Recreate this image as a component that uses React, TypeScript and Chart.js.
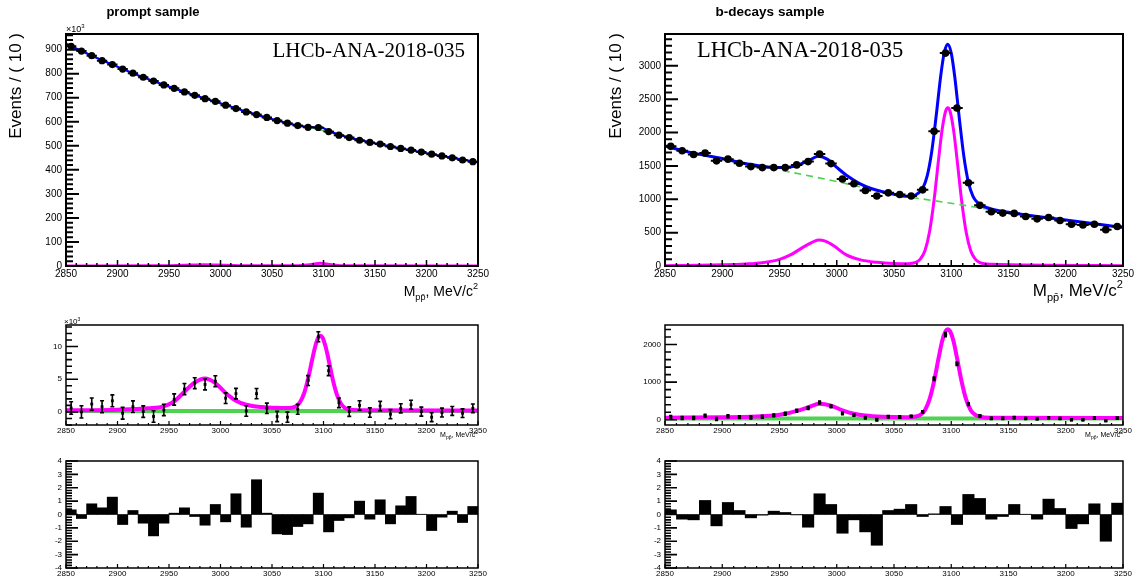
import React, { useEffect, useRef } from "react";
import { Chart, registerables } from "chart.js";

Chart.register(...registerables);
Chart.defaults.font.family = "'Liberation Sans', Arial, sans-serif";

// ---------------- data ----------------
const BIN_CENTERS = [2855, 2865, 2875, 2885, 2895, 2905, 2915, 2925, 2935, 2945, 2955, 2965, 2975, 2985, 2995, 3005, 3015, 3025, 3035, 3045, 3055, 3065, 3075, 3085, 3095, 3105, 3115, 3125, 3135, 3145, 3155, 3165, 3175, 3185, 3195, 3205, 3215, 3225, 3235, 3245];
const X_TICKS = [2850, 2900, 2950, 3000, 3050, 3100, 3150, 3200, 3250];

const PROMPT_Y_TICKS = [0, 100, 200, 300, 400, 500, 600, 700, 800, 900];
const BDEC_Y_TICKS = [0, 500, 1000, 1500, 2000, 2500, 3000];
const PROMPT_SUB_Y_TICKS = [0, 5, 10];
const BDEC_SUB_Y_TICKS = [0, 1000, 2000];
const PULL_Y_TICKS = [-4, -3, -2, -1, 0, 1, 2, 3, 4];

// prompt sample (x10^3 events)
const PROMPT_DATA = [914, 894, 875, 854, 838, 819, 802, 785, 769, 753, 739, 724, 710, 696, 685, 669, 655, 641, 630, 618, 605, 594, 584, 577, 576, 559, 544, 534, 523, 514, 507, 497, 489, 482, 474, 465, 458, 450, 441, 434];
const PROMPT_ERR = [0.95, 0.94, 0.93, 0.92, 0.91, 0.9, 0.89, 0.88, 0.87, 0.87, 0.86, 0.85, 0.84, 0.83, 0.83, 0.82, 0.81, 0.8, 0.79, 0.79, 0.78, 0.77, 0.76, 0.76, 0.77, 0.75, 0.74, 0.73, 0.72, 0.72, 0.71, 0.7, 0.7, 0.69, 0.69, 0.68, 0.68, 0.67, 0.66, 0.66];
const PROMPT_TOTAL_X = [2850, 2875, 2900, 2925, 2950, 2975, 3000, 3025, 3050, 3075, 3085, 3092, 3098, 3105, 3115, 3125, 3150, 3175, 3200, 3225, 3250];
const PROMPT_TOTAL_Y = [924, 875, 829, 785, 746, 710, 677, 642, 611, 584, 578, 577, 576, 562, 546, 534, 510, 489, 469, 450, 431];
const PROMPT_BKG_X = [2850, 2900, 2950, 3000, 3050, 3100, 3150, 3200, 3250];
const PROMPT_BKG_Y = [924, 829, 745, 675, 610, 563, 509, 469, 431];
const PROMPT_SIG_X = [2850, 2940, 2965, 2984, 3005, 3030, 3075, 3085, 3091, 3097, 3103, 3110, 3120, 3250];
const PROMPT_SIG_Y = [0.3, 1.0, 3.2, 5.0, 3.0, 1.0, 0.7, 4.5, 8.5, 11.5, 8.5, 4.5, 0.8, 0.3];

const PROMPT_SUB = [0.6, 0.0, 1.2, 0.8, 1.7, -0.2, 0.8, 0.05, -0.7, 0.3, 1.9, 3.5, 4.4, 4.2, 4.7, 2.1, 2.8, 0.15, 2.8, 0.55, -0.7, -0.8, 0.4, 4.8, 11.5, 6.3, 1.4, 0.05, 1.0, -0.1, 0.9, -0.35, 0.55, 1.1, 0.05, -0.8, -0.1, 0.15, -0.2, 0.55];
const PROMPT_SUBSIG_X = [2850, 2900, 2930, 2945, 2955, 2965, 2975, 2985, 2995, 3005, 3015, 3025, 3040, 3060, 3069, 3073, 3077, 3081, 3085, 3089, 3092, 3095, 3097, 3099, 3102, 3105, 3109, 3113, 3117, 3121, 3125, 3135, 3250];
const PROMPT_SUBSIG_Y = [0.25, 0.35, 0.55, 0.85, 1.6, 3.1, 4.5, 5.1, 4.4, 2.9, 1.7, 1.1, 0.75, 0.6, 0.64, 0.83, 1.44, 2.78, 5.06, 8.0, 10.06, 11.4, 11.66, 11.39, 10.0, 7.95, 4.95, 2.65, 1.26, 0.6, 0.35, 0.27, 0.22];
const PROMPT_SUBBKG_X = [2850, 3250];
const PROMPT_SUBBKG_Y = [0.15, 0.15];
const PROMPT_PULL = [0.35, -0.3, 0.8, 0.5, 1.3, -0.75, 0.3, -0.65, -1.6, -0.65, 0.1, 0.5, -0.15, -0.8, 0.75, -0.55, 1.55, -0.95, 2.6, 0.1, -1.45, -1.5, -0.9, -0.7, 1.6, -1.3, -0.45, -0.25, 1.0, -0.35, 1.1, -0.7, 0.65, 1.35, 0.02, -1.2, -0.2, 0.25, -0.6, 0.6];

// b-decays sample
const BDEC_DATA = [1793, 1727, 1672, 1692, 1576, 1601, 1540, 1490, 1475, 1475, 1475, 1515, 1565, 1677, 1535, 1303, 1232, 1131, 1050, 1096, 1071, 1050, 1141, 2020, 3192, 2368, 1247, 909, 813, 793, 788, 742, 707, 727, 682, 626, 616, 626, 545, 591];
const BDEC_ERR = [42, 42, 41, 41, 40, 40, 39, 39, 38, 38, 38, 39, 40, 41, 39, 36, 35, 34, 32, 33, 33, 32, 34, 45, 56, 49, 35, 30, 29, 28, 28, 27, 27, 27, 26, 25, 25, 25, 23, 24];
const BDEC_TOTAL_X = [2850, 2870, 2900, 2925, 2940, 2955, 2965, 2975, 2984, 2992, 3000, 3010, 3020, 3030, 3040, 3050, 3060, 3067, 3071, 3075, 3079, 3083, 3087, 3091, 3094, 3097, 3100, 3103, 3107, 3111, 3115, 3119, 3123, 3130, 3150, 3200, 3250];
const BDEC_TOTAL_Y = [1800, 1710, 1610, 1520, 1485, 1478, 1505, 1575, 1645, 1598, 1478, 1340, 1235, 1162, 1112, 1075, 1045, 1048, 1090, 1161, 1350, 1720, 2274, 2876, 3207, 3325, 3191, 2844, 2220, 1645, 1253, 1043, 950, 881, 805, 690, 578];
const BDEC_BKG_X = [2850, 2900, 2950, 3000, 3050, 3100, 3150, 3200, 3250];
const BDEC_BKG_Y = [1790, 1605, 1440, 1265, 1075, 940, 805, 690, 580];
const BDEC_SIG_X = [2850, 2880, 2900, 2920, 2935, 2950, 2960, 2970, 2978, 2984, 2990, 2998, 3008, 3020, 3035, 3050, 3062, 3069, 3073, 3077, 3081, 3085, 3089, 3092, 3095, 3097, 3099, 3102, 3105, 3109, 3113, 3117, 3121, 3125, 3135, 3250];
const BDEC_SIG_Y = [5, 10, 17, 30, 50, 100, 170, 275, 350, 390, 372, 295, 170, 95, 55, 38, 35, 54, 104, 230, 510, 990, 1610, 2040, 2315, 2370, 2315, 2040, 1610, 990, 510, 230, 104, 50, 25, 5];

const BDEC_SUB = [70, 45, 45, 105, 20, 95, 70, 60, 80, 115, 160, 240, 310, 460, 355, 170, 125, 55, 0, 80, 70, 90, 205, 1090, 2265, 1490, 415, 105, 35, 35, 55, 35, 25, 55, 35, 0, 0, 45, -25, 45];
const BDEC_SUBSIG_X = [2850, 2900, 2930, 2945, 2955, 2965, 2975, 2985, 2995, 3005, 3015, 3025, 3040, 3060, 3069, 3073, 3077, 3081, 3085, 3089, 3092, 3095, 3097, 3099, 3102, 3105, 3109, 3113, 3117, 3121, 3125, 3135, 3250];
const BDEC_SUBSIG_Y = [55, 65, 85, 115, 160, 235, 330, 425, 375, 250, 160, 110, 78, 65, 85, 130, 255, 540, 1025, 1650, 2090, 2355, 2410, 2355, 2090, 1650, 1025, 540, 255, 130, 80, 55, 45];
const BDEC_SUBBKG_X = [2850, 3250];
const BDEC_SUBBKG_Y = [35, 35];
const BDEC_PULL = [0.35, -0.35, -0.4, 1.05, -0.85, 0.9, 0.3, -0.25, -0.05, 0.25, 0.15, -0.03, -0.95, 1.55, 0.75, -1.4, -0.4, -1.3, -2.3, 0.3, 0.4, 0.75, -0.15, 0.05, 0.6, -0.75, 1.5, 1.2, -0.35, -0.15, 0.75, 0.02, -0.35, 1.15, 0.45, -1.05, -0.7, 0.8, -2.0, 0.85];

const TITLE_PROMPT = "prompt sample";
const TITLE_BDEC = "b-decays sample";
const Y_TITLE = "Events / ( 10 )";
const LHCB_LABEL = "LHCb-ANA-2018-035";

// ---------------- styles ----------------
const BLUE = "#0000ff";
const MAGENTA = "#ff00ff";
const GREEN = "#4fd24f";
const SERIF = "'Liberation Serif', 'Times New Roman', serif";

// ---------------- helpers ----------------
const pts = (xs: number[], ys: number[]) => xs.map((x, i) => ({ x, y: ys[i] }));

type Part = { t: string; size: number; dy?: number; family?: string; weight?: string };
type TextItem = { parts: Part[]; x: number; y: number; align: "left" | "right" | "center"; rotate?: boolean; weight?: string; family?: string };

function drawRich(ctx: CanvasRenderingContext2D, it: TextItem) {
  ctx.save();
  const fam = it.family || "'Liberation Sans', Arial, sans-serif";
  const fontOf = (p: Part) => `${p.weight || it.weight || "normal"} ${p.size}px ${p.family || fam}`;
  let total = 0;
  const widths = it.parts.map((p) => {
    ctx.font = fontOf(p);
    const w = ctx.measureText(p.t).width;
    total += w;
    return w;
  });
  ctx.translate(it.x, it.y);
  if (it.rotate) ctx.rotate(-Math.PI / 2);
  let x0 = it.align === "right" ? -total : it.align === "center" ? -total / 2 : 0;
  ctx.fillStyle = "#000";
  ctx.textAlign = "left";
  ctx.textBaseline = "alphabetic";
  it.parts.forEach((p, i) => {
    ctx.font = fontOf(p);
    ctx.fillText(p.t, x0, p.dy || 0);
    x0 += widths[i];
  });
  ctx.restore();
}

function makeTextPlugin(items: TextItem[]) {
  return {
    id: "rootText",
    afterDraw(chart: any) {
      for (const it of items) drawRich(chart.ctx, it);
    },
  };
}

type FrameOpts = {
  yMajor: number[]; yMinor: number; yMajorLen: number; yMinorLen: number; yTickWidth: number;
  xMajor: number[]; xMinor: number; xMajorLen: number; xMinorLen: number; xTickWidth: number;
  frameWidth: number;
};

function makeFramePlugin(f: FrameOpts) {
  return {
    id: "rootFrame",
    afterDraw(chart: any) {
      const { ctx, chartArea: a, scales } = chart;
      const xs = scales.x, ys = scales.y;
      ctx.save();
      ctx.strokeStyle = "#000";
      ctx.lineCap = "butt";
      ctx.lineWidth = f.yTickWidth;
      ctx.beginPath();
      const y0 = Math.ceil(ys.min / f.yMinor - 1e-6), y1 = Math.floor(ys.max / f.yMinor + 1e-6);
      for (let i = y0; i <= y1; i++) {
        const v = i * f.yMinor;
        const major = f.yMajor.some((m) => Math.abs(m - v) < f.yMinor * 0.01);
        const py = ys.getPixelForValue(v);
        ctx.moveTo(a.left, py);
        ctx.lineTo(a.left + (major ? f.yMajorLen : f.yMinorLen), py);
      }
      ctx.stroke();
      ctx.lineWidth = f.xTickWidth;
      ctx.beginPath();
      const x0 = Math.ceil(xs.min / f.xMinor - 1e-6), x1 = Math.floor(xs.max / f.xMinor + 1e-6);
      for (let i = x0; i <= x1; i++) {
        const v = i * f.xMinor;
        const major = f.xMajor.some((m) => Math.abs(m - v) < f.xMinor * 0.01);
        const px = xs.getPixelForValue(v);
        ctx.moveTo(px, a.bottom);
        ctx.lineTo(px, a.bottom - (major ? f.xMajorLen : f.xMinorLen));
      }
      ctx.stroke();
      ctx.lineWidth = f.frameWidth;
      ctx.strokeRect(a.left, a.top, a.right - a.left, a.bottom - a.top);
      ctx.restore();
    },
  };
}

const errorBarPlugin = {
  id: "errBars",
  afterDatasetDraw(chart: any, args: any) {
    const ds: any = chart.data.datasets[args.index];
    if (!ds.errY && !ds.errX) return;
    const { ctx, chartArea: a } = chart;
    const xs = chart.scales.x, ys = chart.scales.y;
    ctx.save();
    ctx.beginPath();
    ctx.rect(a.left, a.top, a.right - a.left, a.bottom - a.top);
    ctx.clip();
    ctx.strokeStyle = "#000";
    ctx.lineWidth = ds.errWidth || 1.5;
    ctx.beginPath();
    ds.data.forEach((pt: any, i: number) => {
      const px = xs.getPixelForValue(pt.x), py = ys.getPixelForValue(pt.y);
      if (ds.errY) {
        const e = ds.errY[i];
        const t = ys.getPixelForValue(pt.y + e), b = ys.getPixelForValue(pt.y - e);
        ctx.moveTo(px, t);
        ctx.lineTo(px, b);
        if (ds.capW) {
          ctx.moveTo(px - ds.capW, t); ctx.lineTo(px + ds.capW, t);
          ctx.moveTo(px - ds.capW, b); ctx.lineTo(px + ds.capW, b);
        }
      }
      if (ds.errX) {
        ctx.moveTo(xs.getPixelForValue(pt.x - ds.errX), py);
        ctx.lineTo(xs.getPixelForValue(pt.x + ds.errX), py);
      }
    });
    ctx.stroke();
    ctx.restore();
  },
};

type PanelSpec = {
  key: string; type: "line" | "bar";
  left: number; top: number; width: number; height: number;
  area: { l: number; t: number; r: number; b: number };
  yMin: number; yMax: number; yTicks: number[];
  tickFont: number; xLabelPad: number;
  frame: FrameOpts;
  datasets: any[];
  texts: TextItem[];
};

function buildConfig(s: PanelSpec): any {
  const fmt = (v: any) => String(v);
  return {
    type: s.type,
    data: { datasets: s.datasets },
    options: {
      responsive: false,
      animation: false,
      events: [],
      layout: { padding: { left: 0, top: s.area.t, right: s.width - s.area.r, bottom: 0 } },
      plugins: { legend: { display: false }, tooltip: { enabled: false }, title: { display: false } },
      scales: {
        x: {
          type: "linear", min: 2850, max: 3250, offset: false,
          afterBuildTicks: (ax: any) => { ax.ticks = X_TICKS.map((v) => ({ value: v })); },
          afterFit: (ax: any) => { ax.height = s.height - s.area.b; },
          grid: { display: false, drawTicks: false },
          border: { display: false },
          ticks: { autoSkip: false, maxRotation: 0, minRotation: 0, padding: s.xLabelPad, color: "#000", font: { size: s.tickFont }, callback: fmt },
        },
        y: {
          type: "linear", min: s.yMin, max: s.yMax,
          afterBuildTicks: (ax: any) => { ax.ticks = s.yTicks.map((v) => ({ value: v })); },
          afterFit: (ax: any) => { ax.width = s.area.l; },
          grid: { display: false, drawTicks: false },
          border: { display: false },
          ticks: { autoSkip: false, padding: 4, color: "#000", font: { size: s.tickFont }, callback: fmt },
        },
      },
    },
    plugins: [errorBarPlugin, makeFramePlugin(s.frame), makeTextPlugin(s.texts)],
  };
}

function Panel({ spec }: { spec: PanelSpec }) {
  const ref = useRef<HTMLCanvasElement>(null);
  useEffect(() => {
    const chart = new Chart(ref.current as HTMLCanvasElement, buildConfig(spec));
    return () => chart.destroy();
  }, []);
  return (
    <canvas
      ref={ref}
      width={spec.width}
      height={spec.height}
      style={{ position: "absolute", left: spec.left, top: spec.top, width: spec.width, height: spec.height }}
    />
  );
}

// ---------------- panel specs ----------------
const curve = (xs: number[], ys: number[], color: string, width: number, order: number, dash?: number[]) => ({
  type: "line",
  data: pts(xs, ys),
  borderColor: color,
  borderWidth: width,
  borderDash: dash || [],
  pointRadius: 0,
  fill: false,
  cubicInterpolationMode: "monotone",
  order,
});

const topFrame = (yMajor: number[], yMinor: number): FrameOpts => ({
  yMajor, yMinor, yMajorLen: 13, yMinorLen: 7, yTickWidth: 2,
  xMajor: X_TICKS, xMinor: 10, xMajorLen: 6, xMinorLen: 3, xTickWidth: 1.5, frameWidth: 2,
});
const smallFrame = (yMajor: number[], yMinor: number): FrameOpts => ({
  yMajor, yMinor, yMajorLen: 12, yMinorLen: 6, yTickWidth: 1.6,
  xMajor: X_TICKS, xMinor: 10, xMajorLen: 4, xMinorLen: 2, xTickWidth: 1.2, frameWidth: 1.5,
});

const xTitleBig = (x: number, size: number): TextItem => ({
  parts: [
    { t: "M", size },
    { t: "pp\u0304", size: size * 0.65, dy: size * 0.3 },
    { t: ", MeV/c", size },
    { t: "2", size: size * 0.65, dy: -size * 0.47 },
  ],
  x, y: 296, align: "right",
});
const xTitleSmall = (x: number): TextItem => ({
  parts: [
    { t: "M", size: 7 },
    { t: "pp\u0304", size: 5, dy: 2 },
    { t: ", MeV/c", size: 7 },
    { t: "2", size: 5, dy: -3 },
  ],
  x, y: 137, align: "right",
});

// left column frame: 66..478 ; right column frame: 665..1123
const L_AREA_X = { l: 66, r: 478 };
const R_AREA_X = { l: 94, r: 552 };

const PANELS: PanelSpec[] = [
  {
    key: "tl", type: "line", left: 0, top: 0, width: 571, height: 310,
    area: { ...L_AREA_X, t: 34, b: 266 },
    yMin: 0, yMax: 965, yTicks: PROMPT_Y_TICKS, tickFont: 10, xLabelPad: 2,
    frame: topFrame(PROMPT_Y_TICKS, 20),
    datasets: [
      {
        type: "line", data: pts(BIN_CENTERS, PROMPT_DATA), showLine: false,
        pointRadius: 3.6, pointBackgroundColor: "#000", pointBorderColor: "#000", pointBorderWidth: 0,
        errY: PROMPT_ERR, errX: 5, errWidth: 2, order: 0,
      },
      curve(PROMPT_TOTAL_X, PROMPT_TOTAL_Y, BLUE, 2.2, 1),
      curve(PROMPT_BKG_X, PROMPT_BKG_Y, GREEN, 1.5, 2, [6, 4]),
      curve(PROMPT_SIG_X, PROMPT_SIG_Y, MAGENTA, 3, 3),
    ],
    texts: [
      { parts: [{ t: TITLE_PROMPT, size: 13 }], weight: "bold", x: 153, y: 16, align: "center" },
      { parts: [{ t: Y_TITLE, size: 17 }], x: 21, y: 33, align: "right", rotate: true },
      { parts: [{ t: LHCB_LABEL, size: 21 }], family: SERIF, x: 465, y: 57, align: "right" },
      { parts: [{ t: "\u00d710", size: 9 }, { t: "3", size: 6, dy: -4 }], x: 66, y: 32, align: "left" },
      xTitleBig(478, 14),
    ],
  },
  {
    key: "tr", type: "line", left: 571, top: 0, width: 571, height: 310,
    area: { ...R_AREA_X, t: 34, b: 266 },
    yMin: 0, yMax: 3477, yTicks: BDEC_Y_TICKS, tickFont: 10, xLabelPad: 2,
    frame: topFrame(BDEC_Y_TICKS, 100),
    datasets: [
      {
        type: "line", data: pts(BIN_CENTERS, BDEC_DATA), showLine: false,
        pointRadius: 3.8, pointBackgroundColor: "#000", pointBorderColor: "#000", pointBorderWidth: 0,
        errY: BDEC_ERR, errX: 5, errWidth: 2, order: 0,
      },
      curve(BDEC_TOTAL_X, BDEC_TOTAL_Y, BLUE, 3, 1),
      curve(BDEC_BKG_X, BDEC_BKG_Y, GREEN, 1.6, 2, [7, 5]),
      curve(BDEC_SIG_X, BDEC_SIG_Y, MAGENTA, 3, 3),
    ],
    texts: [
      { parts: [{ t: TITLE_BDEC, size: 13.5 }], weight: "bold", x: 199, y: 16, align: "center" },
      { parts: [{ t: Y_TITLE, size: 17 }], x: 50, y: 33, align: "right", rotate: true },
      { parts: [{ t: LHCB_LABEL, size: 22.5 }], family: SERIF, x: 126, y: 57, align: "left" },
      xTitleBig(552, 17),
    ],
  },
  {
    key: "ml", type: "line", left: 0, top: 300, width: 571, height: 145,
    area: { ...L_AREA_X, t: 25, b: 125 },
    yMin: -2, yMax: 13.3, yTicks: PROMPT_SUB_Y_TICKS, tickFont: 8, xLabelPad: 1,
    frame: smallFrame(PROMPT_SUB_Y_TICKS, 1),
    datasets: [
      {
        type: "line", data: pts(BIN_CENTERS, PROMPT_SUB), showLine: false,
        pointStyle: "rect", pointRadius: 2, pointBackgroundColor: "#000", pointBorderColor: "#000", pointBorderWidth: 0,
        errY: PROMPT_ERR, capW: 2, errWidth: 1.6, order: 0,
      },
      curve(PROMPT_SUBSIG_X, PROMPT_SUBSIG_Y, MAGENTA, 4, 1),
      curve(PROMPT_SUBBKG_X, PROMPT_SUBBKG_Y, GREEN, 4, 2),
    ],
    texts: [
      { parts: [{ t: "\u00d710", size: 8 }, { t: "3", size: 5, dy: -3.5 }], x: 64, y: 24, align: "left" },
      xTitleSmall(478),
    ],
  },
  {
    key: "mr", type: "line", left: 571, top: 300, width: 571, height: 145,
    area: { ...R_AREA_X, t: 25, b: 125 },
    yMin: -140, yMax: 2520, yTicks: BDEC_SUB_Y_TICKS, tickFont: 8, xLabelPad: 1,
    frame: smallFrame(BDEC_SUB_Y_TICKS, 200),
    datasets: [
      {
        type: "line", data: pts(BIN_CENTERS, BDEC_SUB), showLine: false,
        pointStyle: "rect", pointRadius: 2.3, pointBackgroundColor: "#000", pointBorderColor: "#000", pointBorderWidth: 0,
        errY: BDEC_ERR, capW: 1.5, errWidth: 1.5, order: 0,
      },
      curve(BDEC_SUBSIG_X, BDEC_SUBSIG_Y, MAGENTA, 4, 1),
      curve(BDEC_SUBBKG_X, BDEC_SUBBKG_Y, GREEN, 4, 2),
    ],
    texts: [xTitleSmall(552)],
  },
  {
    key: "bl", type: "bar", left: 0, top: 440, width: 571, height: 141,
    area: { ...L_AREA_X, t: 21, b: 128 },
    yMin: -4, yMax: 4, yTicks: PULL_Y_TICKS, tickFont: 8, xLabelPad: 1,
    frame: smallFrame(PULL_Y_TICKS, 0.2),
    datasets: [
      {
        type: "bar", data: pts(BIN_CENTERS, PROMPT_PULL), backgroundColor: "#000", borderWidth: 0,
        barPercentage: 1, categoryPercentage: 1,
      },
    ],
    texts: [],
  },
  {
    key: "br", type: "bar", left: 571, top: 440, width: 571, height: 141,
    area: { ...R_AREA_X, t: 21, b: 128 },
    yMin: -4, yMax: 4, yTicks: PULL_Y_TICKS, tickFont: 8, xLabelPad: 1,
    frame: smallFrame(PULL_Y_TICKS, 0.2),
    datasets: [
      {
        type: "bar", data: pts(BIN_CENTERS, BDEC_PULL), backgroundColor: "#000", borderWidth: 0,
        barPercentage: 1, categoryPercentage: 1,
      },
    ],
    texts: [],
  },
];

export default function App() {
  return (
    <div style={{ position: "fixed", left: 0, top: 0, width: 1142, height: 581, background: "#fff", overflow: "hidden" }}>
      {PANELS.map((p) => (
        <Panel key={p.key} spec={p} />
      ))}
    </div>
  );
}
